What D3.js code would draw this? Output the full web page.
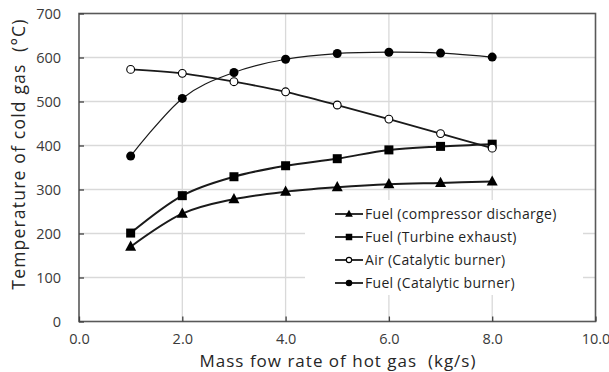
<!DOCTYPE html>
<html>
<head>
<script src="https://d3js.org/d3.v7.min.js"></script>
<style>
  body { margin: 0; background: #fff; }
  svg { font-family: 'Open Sans', sans-serif; }
</style>
</head>
<body>
<svg id="chart" width="609" height="372"></svg>
<script>
// data
const flow = [1, 2, 3, 4, 5, 6, 7, 8];
const fuelCompressor = [170, 245, 278, 295, 305, 312, 315, 318];
const fuelTurbine = [201, 286, 329, 354, 370, 390, 398, 403];
const airCatalytic = [573, 564, 545, 522, 492, 460, 427, 394];
const fuelCatalytic = [376, 507, 566, 596, 609, 612, 610, 601];
const seriesNames = ["Fuel (compressor discharge)", "Fuel (Turbine exhaust)", "Air (Catalytic burner)", "Fuel (Catalytic burner)"];
const xTicks = [0, 2, 4, 6, 8, 10];
const yTicks = [0, 100, 200, 300, 400, 500, 600, 700];

const series = [
    { name: seriesNames[0], values: fuelCompressor, marker: "triangle", width: 2 },
    { name: seriesNames[1], values: fuelTurbine, marker: "square", width: 2 },
    { name: seriesNames[2], values: airCatalytic, marker: "open", width: 1.8 },
    { name: seriesNames[3], values: fuelCatalytic, marker: "dot", width: 1.2 }
];

const svg = d3.select("#chart");
const margin = { left: 79, right: 13.5, top: 13.5, bottom: 50.5 };
const width = 609 - margin.left - margin.right;
const height = 372 - margin.top - margin.bottom;

const x = d3.scaleLinear().domain([0, 10]).range([0, width]);
const y = d3.scaleLinear().domain([0, 700]).range([height, 0]);

const g = svg.append("g").attr("transform", "translate(" + margin.left + "," + margin.top + ")");

// gridlines
g.append("g").selectAll("line").data(yTicks.slice(1, -1)).enter().append("line")
    .attr("x1", 0).attr("x2", width)
    .attr("y1", d => y(d)).attr("y2", d => y(d))
    .style("stroke", "#d9d9d9").style("stroke-width", 1.3);
g.append("g").selectAll("line").data(xTicks.slice(1, -1)).enter().append("line")
    .attr("y1", 0).attr("y2", height)
    .attr("x1", d => x(d)).attr("x2", d => x(d))
    .style("stroke", "#d9d9d9").style("stroke-width", 1.3);

// legend background hides grid
const legendBox = { x: 305 - margin.left, y: 200 - margin.top, w: 278, h: 95 };
g.append("rect")
    .attr("x", legendBox.x).attr("y", legendBox.y)
    .attr("width", legendBox.w).attr("height", legendBox.h)
    .style("fill", "#fff");

// frame + axes
g.append("rect").attr("width", width).attr("height", height)
    .style("fill", "none").style("stroke", "#595959").style("stroke-width", 1.6);

const xAxis = d3.axisBottom(x).tickValues(xTicks).tickSize(-5).tickPadding(12)
    .tickFormat(d3.format(".1f"));
const yAxis = d3.axisLeft(y).tickValues(yTicks).tickSize(-5).tickPadding(18);

g.append("g").attr("transform", "translate(0," + height + ")").call(xAxis);
g.append("g").call(yAxis);
g.selectAll(".domain").remove();
g.selectAll(".tick line").style("stroke", "#404040").style("stroke-width", 1.3);
g.selectAll(".tick text").style("font-size", "14.5px").style("fill", "#3a3a3a")
    .style("font-family", "'Open Sans', sans-serif");

// lines
const line = d3.line()
    .x((d, i) => x(flow[i]))
    .y(d => y(d))
    .curve(d3.curveCatmullRom.alpha(0));

function drawMarker(sel, type, cx, cy, s) {
    if (type === "triangle") {
        sel.append("path")
            .attr("d", "M" + cx + "," + (cy - s * 0.62) + "L" + (cx + s * 0.55) + "," + (cy + s * 0.4) + "L" + (cx - s * 0.55) + "," + (cy + s * 0.4) + "Z")
            .style("fill", "#000");
    } else if (type === "square") {
        sel.append("rect").attr("x", cx - s / 2).attr("y", cy - s / 2)
            .attr("width", s).attr("height", s).style("fill", "#000");
    } else if (type === "open") {
        sel.append("circle").attr("cx", cx).attr("cy", cy).attr("r", s / 2 - 0.6)
            .style("fill", "#fff").style("stroke", "#000").style("stroke-width", 1.1);
    } else {
        sel.append("circle").attr("cx", cx).attr("cy", cy).attr("r", s / 2)
            .style("fill", "#000");
    }
}

series.forEach(function (s) {
    g.append("path").datum(s.values)
        .attr("d", line)
        .style("fill", "none").style("stroke", "#1a1a1a").style("stroke-width", s.width);
    const mg = g.append("g");
    s.values.forEach(function (v, i) {
        drawMarker(mg, s.marker, x(flow[i]), y(v), s.marker === "triangle" ? 10 : 9);
    });
});

// legend
const legend = g.append("g").attr("transform", "translate(" + (335 - margin.left) + "," + (214 - margin.top) + ")");
series.forEach(function (s, i) {
    const row = legend.append("g").attr("transform", "translate(0," + (i * 23) + ")");
    row.append("line").attr("x1", 0).attr("x2", 28).attr("y1", 0).attr("y2", 0)
        .style("stroke", "#1a1a1a").style("stroke-width", 1.8);
    drawMarker(row, s.marker, 14, 0, s.marker === "triangle" ? 7 : 6.5);
    row.append("text").attr("x", 30).attr("y", 0).attr("dy", "0.35em")
        .style("font-size", "14px").style("letter-spacing", "0.3px").style("fill", "#1f1f1f")
        .text(s.name);
});

// axis titles
svg.append("text")
    .attr("x", 338).attr("y", 366.5)
    .attr("text-anchor", "middle")
    .style("font-size", "17px").style("letter-spacing", "1px").style("fill", "#262626")
    .text("Mass fow rate of hot gas\u00a0\u00a0(kg/s)");

svg.append("text")
    .attr("transform", "translate(24.5,154) rotate(-90)")
    .attr("text-anchor", "middle")
    .style("font-size", "17.5px").style("letter-spacing", "1.2px").style("fill", "#262626")
    .text("Temperature of cold gas\u00a0\u00a0(\u00b0C)");
</script>
</body>
</html>
